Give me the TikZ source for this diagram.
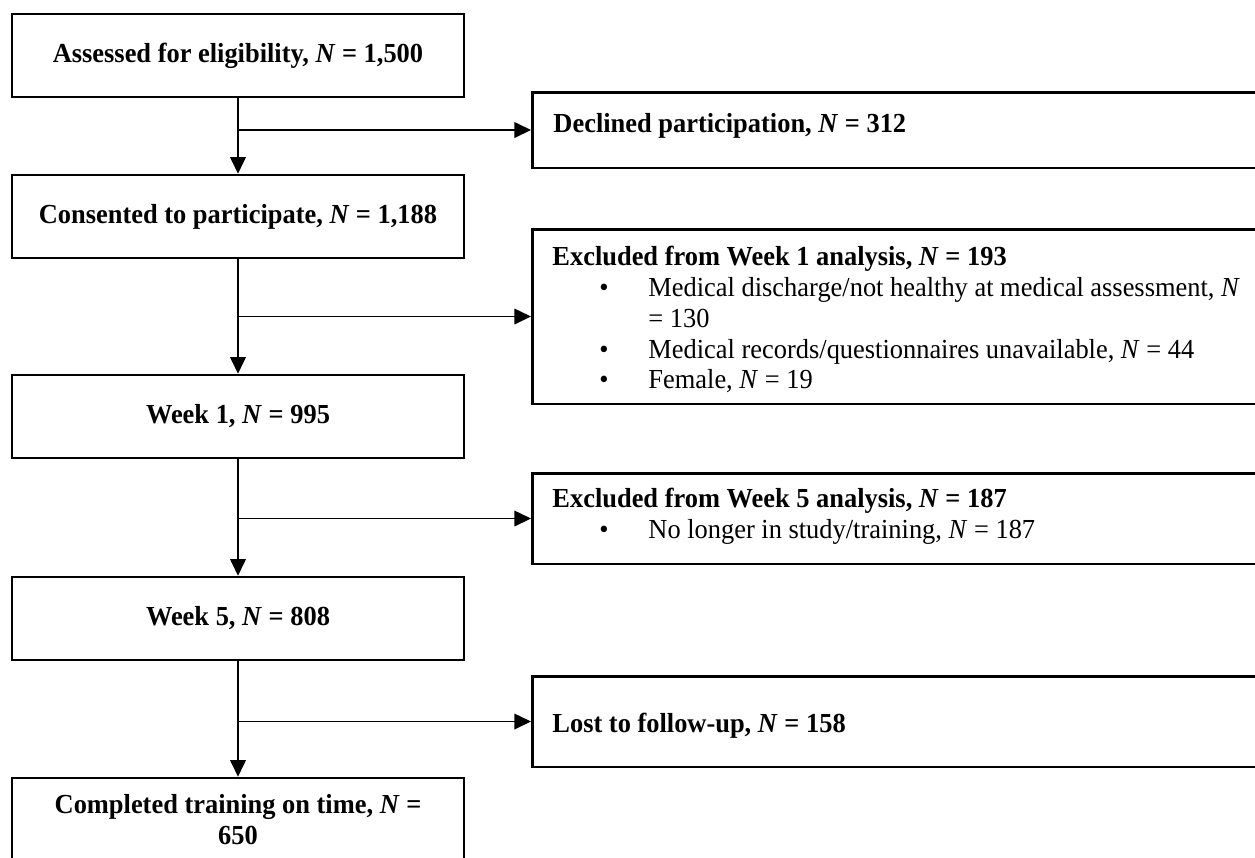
\documentclass[tikz,border=0pt]{standalone}
\usepackage{fontspec}
\setmainfont{Liberation Serif}[FakeStretch=0.96]
\usetikzlibrary{arrows.meta}
\usetikzlibrary{positioning}
\newlength{\pu}
\setlength{\pu}{0.436pt}
\newcommand{\bul}{\makebox[96\pu][l]{\hspace*{47\pu}\textbullet}}

\begin{document}
\begin{tikzpicture}[x=0.436pt, y=-0.436pt, font=\fontsize{12}{13.4}\selectfont,
    lbox/.style={draw, line width=1.1pt, minimum width=452\pu, minimum height=83\pu, inner sep=0pt, align=center, font=\fontsize{12}{13.4}\selectfont\bfseries},
    rbox/.style={draw, line width=1.1pt, anchor=north west, minimum width=740\pu, inner sep=0pt},
    rtext/.style={inner sep=0pt, align=left},
    flow/.style={line width=0.6pt, -{Triangle[length=7.2pt, width=6.8pt]}}]
  \useasboundingbox (0,0) rectangle (1255,857);
  \clip (0,0) rectangle (1255,857);

  \node[lbox] (assess) at (238,55.5) {Assessed for eligibility, \textit{N} = 1,500};
  \node[lbox] (consent) at (238,216.5) {Consented to participate, \textit{N} = 1,188};
  \node[lbox] (week1) at (238,416.5) {Week 1, \textit{N} = 995};
  \node[lbox] (week5) at (238,618.5) {Week 5, \textit{N} = 808};
  \node[lbox] (done) at (238,819.5) {Completed training on time, \textit{N} =\\650};

  \node[rbox, minimum height=75.5\pu] (declined) at (531,91) {};
  \node[rbox, minimum height=174.5\pu] (excl1) at (531,228) {};
  \node[rbox, minimum height=90.5\pu] (excl5) at (531,472) {};
  \node[rbox, minimum height=90.5\pu] (lost) at (531,675) {};

  \node[rtext, anchor=base west] (declinedtxt) at (553,132) {\textbf{Declined participation, \textit{N} = 312}};
  \node[rtext, anchor=north west] (excl1txt) at (552,246) {\textbf{Excluded from Week 1 analysis, \textit{N} = 193}\\
    \bul Medical discharge/not healthy at medical assessment, \textit{N}\\
    \hspace*{96\pu}= 130\\
    \bul Medical records/questionnaires unavailable, \textit{N} = 44\\
    \bul Female, \textit{N} = 19};
  \node[rtext, anchor=north west] (excl5txt) at (552,488) {\textbf{Excluded from Week 5 analysis, \textit{N} = 187}\\
    \bul No longer in study/training, \textit{N} = 187};
  \node[rtext, anchor=base west] (losttxt) at (552,732) {\textbf{Lost to follow-up, \textit{N} = 158}};

  \draw[flow] (assess.south) -- (consent.north);
  \draw[flow] (assess.south |- declined.west) -- (declined.west);
  \draw[flow] (consent.south) -- (week1.north);
  \draw[flow] (consent.south |- excl1.west) -- (excl1.west);
  \draw[flow] (week1.south) -- (week5.north);
  \draw[flow] (week1.south |- excl5.west) -- (excl5.west);
  \draw[flow] (week5.south) -- (done.north);
  \draw[flow] (week5.south |- lost.west) -- (lost.west);
\end{tikzpicture}
\end{document}
